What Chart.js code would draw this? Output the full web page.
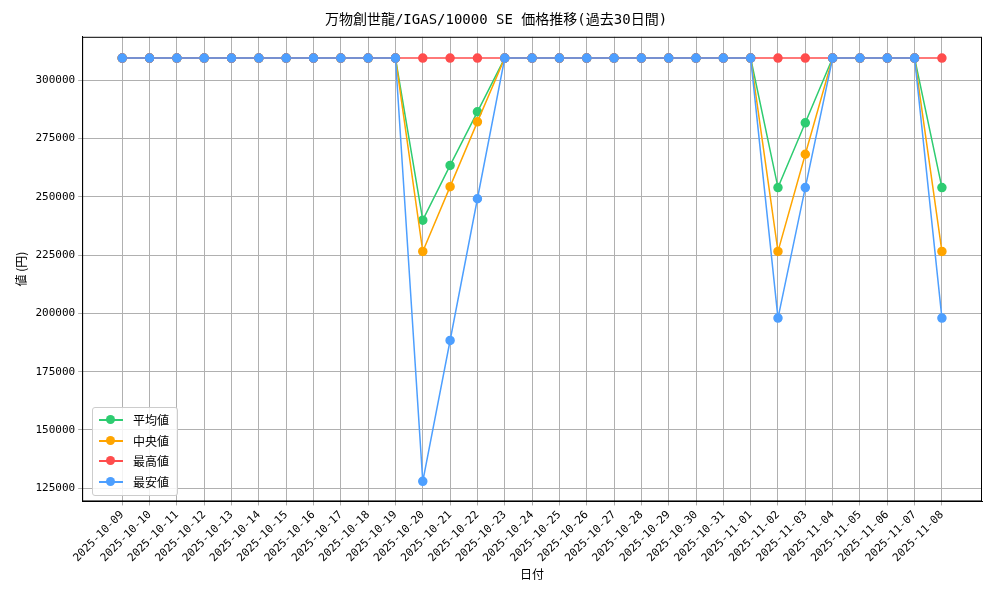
<!DOCTYPE html>
<html><head><meta charset="utf-8">
<script src="https://cdn.jsdelivr.net/npm/chart.js@4"></script>
<style>
body{margin:0;background:#fff;font-family:"Noto Sans CJK JP";}
#w{position:relative;width:1000px;height:600px;}
#lg{position:absolute;left:92px;top:407px;border:1px solid #ccc;border-radius:3px;background:rgba(255,255,255,0.85);padding:2px 8px 3px 6px;font-size:12px;line-height:20.5px;}
#lg div{display:flex;align-items:center;}
#lg span.m{display:inline-block;position:relative;width:24px;height:2px;margin-right:10px;}
#lg span.m:after{content:"";position:absolute;left:7px;top:-4px;width:9px;height:9px;border-radius:50%;background:inherit;}
</style></head><body><div id="w"><canvas id="c" width="1000" height="600"></canvas>
<div id="lg"></div></div>
<script>
const dates=["2025-10-09","2025-10-10","2025-10-11","2025-10-12","2025-10-13","2025-10-14","2025-10-15","2025-10-16","2025-10-17","2025-10-18","2025-10-19","2025-10-20","2025-10-21","2025-10-22","2025-10-23","2025-10-24","2025-10-25","2025-10-26","2025-10-27","2025-10-28","2025-10-29","2025-10-30","2025-10-31","2025-11-01","2025-11-02","2025-11-03","2025-11-04","2025-11-05","2025-11-06","2025-11-07","2025-11-08"];
const H=309560;
const avg=[H,H,H,H,H,H,H,H,H,H,H,240000,263500,286500,H,H,H,H,H,H,H,H,H,H,254000,281800,H,H,H,H,254000];
const med=[H,H,H,H,H,H,H,H,H,H,H,226600,254400,282200,H,H,H,H,H,H,H,H,H,H,226600,268300,H,H,H,H,226600];
const mx=dates.map(()=>H);
const mn=[H,H,H,H,H,H,H,H,H,H,H,128000,188400,249200,H,H,H,H,H,H,H,H,H,H,198000,254000,H,H,H,H,198000];
const series=[["平均値",avg,"#2ecc71"],["中央値",med,"#ffa500"],["最高値",mx,"#ff4d4d"],["最安値",mn,"#4d9fff"]];
const F="'Noto Sans CJK JP'";
const M="'DejaVu Sans Mono','Noto Sans CJK JP'";
document.getElementById('lg').innerHTML=series.map(s=>`<div><span class="m" style="background:${s[2]}"></span>${s[0]}</div>`).join('');
const box={id:'box',afterDraw(c){const a=c.chartArea,x=c.ctx;x.save();x.strokeStyle='#000';x.lineWidth=1;x.strokeRect(a.left+0.5,a.top+0.5,a.width-1,a.height-1);x.restore();}};
new Chart(document.getElementById('c'),{type:'line',plugins:[box],
data:{datasets:series.map((s,k)=>({label:s[0],order:3-k,data:s[1].map((v,i)=>({x:i,y:v})),borderColor:s[2],backgroundColor:s[2],pointRadius:4,pointHoverRadius:4,borderWidth:1.5,tension:0}))},
options:{responsive:false,animation:false,
layout:{padding:{left:10,right:18,top:10,bottom:14}},
plugins:{legend:{display:false},tooltip:{enabled:false},
title:{display:true,text:"万物創世龍/IGAS/10000 SE 価格推移(過去30日間)",color:'#000',font:{family:M,size:14,weight:'normal'},padding:{top:2,bottom:8}}},
scales:{
x:{type:'linear',min:-1.467,max:31.467,afterBuildTicks:a=>{a.ticks=dates.map((d,i)=>({value:i}));},
ticks:{autoSkip:false,maxRotation:45,minRotation:45,color:'#000',font:{family:M,size:11},callback:(v)=>dates[v]},
grid:{color:'#b0b0b0',drawTicks:true,tickLength:4},border:{color:'#000'},
title:{display:true,text:'日付',color:'#000',font:{family:F,size:12},padding:{top:0}}},
y:{min:119350,max:318680,afterBuildTicks:a=>{a.ticks=[125000,150000,175000,200000,225000,250000,275000,300000].map(v=>({value:v}));},
ticks:{color:'#000',font:{family:M,size:11},callback:v=>String(v)},
grid:{color:'#b0b0b0',tickLength:4},border:{color:'#000'},
title:{display:true,text:'値 (円)',color:'#000',font:{family:F,size:12}}}}}});
</script></body></html>
